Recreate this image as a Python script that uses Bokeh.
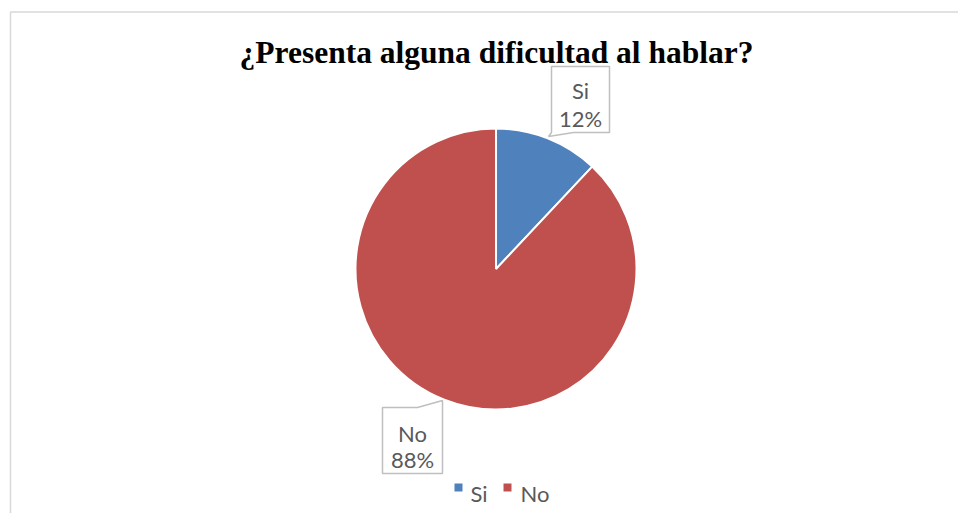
import math
from bokeh.plotting import figure
from bokeh.models import Range1d, ColumnDataSource
from bokeh.embed import file_html
from bokeh.resources import INLINE
from bokeh.core.properties import value

# ---- data ----
title_text = "¿Presenta alguna dificultad al hablar?"
categories = ["Si", "No"]
percent = [12, 88]
colors = ["#4F81BD", "#C0504D"]

# ---- layout (page pixel coordinates) ----
W, H = 958, 513


def X(px):
    return px


def Y(py):
    return H - py


CX, CY, R = 495.5, 268.5, 140.5

p = figure(width=W, height=H, x_range=Range1d(0, W), y_range=Range1d(0, H),
           output_backend="svg", toolbar_location=None, min_border=0,
           x_axis_type=None, y_axis_type=None)
p.grid.visible = False
p.outline_line_color = None
p.background_fill_color = "white"
p.border_fill_color = "white"

# chart border (extends past right and bottom edges)
p.line(x=[X(10), X(10), X(980)], y=[Y(540), Y(11.5), Y(11.5)],
       line_color="#D9D9D9", line_width=1.5)

# title
p.text(x=[X(496)], y=[Y(52)], text=[title_text], text_font=value("Liberation Serif"),
       text_font_style="bold", text_font_size="31.5px", text_align="center",
       text_baseline="middle", text_color="black")

# pie wedges
total = sum(percent)
starts, ends = [], []
acc = 0
for v in percent:
    ends.append(math.radians(90 - acc / total * 360))
    starts.append(math.radians(90 - (acc + v) / total * 360))
    acc += v
src = ColumnDataSource(dict(start=starts, end=ends, color=colors, cat=categories))
p.wedge(x=X(CX), y=Y(CY), radius=R, start_angle="start", end_angle="end",
        fill_color="color", line_color="white", line_width=2, source=src)

# callout boxes
box_si = [(551, 66), (609, 66), (609, 132), (573, 132), (548, 136), (551, 132)]
box_no = [(382, 407), (417, 407), (442, 400), (442, 473), (382, 473)]
for box in (box_si, box_no):
    p.patch(x=[X(a) for a, b in box], y=[Y(b) for a, b in box],
            fill_color="white", line_color="#BFBFBF", line_width=1.5)

label_pos = [(580, 90, 118), (412, 433, 459)]
for (lx, ly1, ly2), cat, pct in zip(label_pos, categories, percent):
    p.text(x=[X(lx), X(lx)], y=[Y(ly1), Y(ly2)], text=[cat, f"{pct}%"],
           text_font=value("Lato"), text_font_size="22px", text_align="center",
           text_baseline="middle", text_color="#595959")

# legend
leg_sq = [(458, 487), (507, 487)]
leg_tx = [(470, 493), (520, 493)]
for (sx, sy), (tx, ty), c, cat in zip(leg_sq, leg_tx, colors, categories):
    p.scatter(x=[X(sx)], y=[Y(sy)], marker="square", size=8, fill_color=c, line_color=None)
    p.text(x=[X(tx)], y=[Y(ty)], text=[cat], text_font=value("Lato"), text_font_size="22px",
           text_align="left", text_baseline="middle", text_color="#595959")

open("out.html", "w").write(file_html(p, INLINE))
